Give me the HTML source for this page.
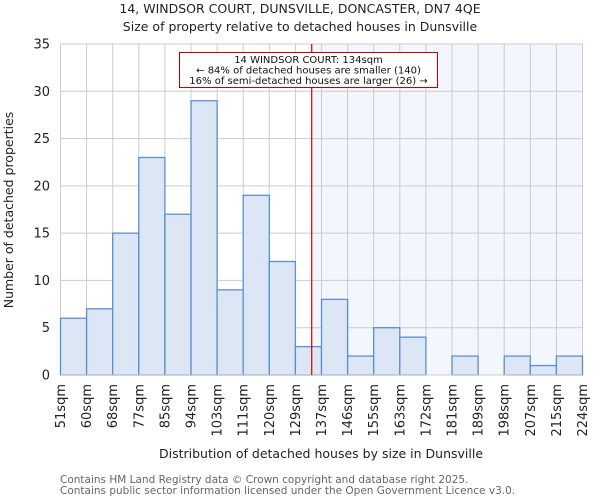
<!DOCTYPE html>
<html><head><meta charset="utf-8"><style>
body{margin:0;background:#fff;font-family:"DejaVu Sans","Liberation Sans",sans-serif}
svg text{font-family:"DejaVu Sans","Liberation Sans",sans-serif}
</style></head><body>
<svg id="c" width="600" height="500" viewBox="0 0 600 500"></svg>
<script>
const edgeLabels=["51sqm","60sqm","68sqm","77sqm","85sqm","94sqm","103sqm","111sqm","120sqm","129sqm","137sqm","146sqm","155sqm","163sqm","172sqm","181sqm","189sqm","198sqm","207sqm","215sqm","224sqm"];
const counts=[6,7,15,23,17,29,9,19,12,3,8,2,5,4,0,2,0,2,1,2];
const yTicks=[0,5,10,15,20,25,30,35];
const markerBinPos=9.625; // 134sqm within 129-137 bin
const NS="http://www.w3.org/2000/svg";
const svg=document.getElementById('c');
const X0=60.5,X1=582.5,Y0=375,Y1=44,YMAX=35;
const nb=counts.length;
const x=i=>X0+(X1-X0)*i/nb;
const y=v=>Y0-(Y0-Y1)*v/YMAX;
function mk(t,a,p){const e=document.createElementNS(NS,t);for(const k in a)e.setAttribute(k,a[k]);(p||svg).appendChild(e);return e;}
function tx(s,a){const e=mk('text',a);e.textContent=s;return e;}
// shaded region
const sh=mk('rect',{x:x(markerBinPos),y:Y1,width:X1-x(markerBinPos),height:Y0-Y1,fill:'#f3f6fd'});


// grid
for(let i=0;i<=nb;i++){const g=mk('line',{x1:x(i),x2:x(i),y1:Y1,y2:Y0,stroke:'#cccccc','stroke-width':1});

}
yTicks.forEach(v=>{const g=mk('line',{x1:X0,x2:X1,y1:y(v),y2:y(v),stroke:'#cccccc','stroke-width':1});


const t=tx(String(v),{x:50,y:y(v)+4.5,'text-anchor':'end','font-size':13,fill:'#222'});

});
// bars
counts.forEach((c,i)=>{if(c<=0)return;const r=mk('rect',{x:x(i),y:y(c),width:x(i+1)-x(i),height:Y0-y(c),fill:'#dce6f4',stroke:'#5b8fd4','stroke-width':1.3});

});
mk('line',{x1:X0,x2:X1,y1:Y0,y2:Y0,stroke:'#ccc'});
// x labels
edgeLabels.forEach((l,i)=>{const t=tx(l,{x:0,y:0,'text-anchor':'end','font-size':13,fill:'#222',transform:`translate(${x(i)+4.5},384) rotate(-90)`});

});
// marker line
const ml=mk('line',{x1:x(markerBinPos),x2:x(markerBinPos),y1:Y1,y2:Y0,stroke:'#d00000','stroke-width':1.2});


// annotation
const ab=mk('rect',{x:179.5,y:52.5,width:258,height:35,fill:'#fff',stroke:'#c00000','stroke-width':1});


[["14 WINDSOR COURT: 134sqm",63],["← 84% of detached houses are smaller (140)",73.5],["16% of semi-detached houses are larger (26) →",84]].forEach(([s,yy])=>{const t=tx(s,{x:308.5,y:yy,'text-anchor':'middle','font-size':10,fill:'#111'});

});
// titles
let t=tx("14, WINDSOR COURT, DUNSVILLE, DONCASTER, DN7 4QE",{x:300,y:13,'text-anchor':'middle','font-size':12.5,fill:'#222'});


t=tx("Size of property relative to detached houses in Dunsville",{x:300,y:31,'text-anchor':'middle','font-size':12.5,fill:'#222'});


t=tx("Distribution of detached houses by size in Dunsville",{x:321,y:458,'text-anchor':'middle','font-size':12.5,fill:'#222'});


t=tx("Number of detached properties",{x:0,y:0,'text-anchor':'middle','font-size':12.5,fill:'#222',transform:'translate(13,210) rotate(-90)'});


t=tx("Contains HM Land Registry data © Crown copyright and database right 2025.",{x:60,y:483,'font-size':10.5,fill:'#666'});


t=tx("Contains public sector information licensed under the Open Government Licence v3.0.",{x:60,y:494,'font-size':10.5,fill:'#666'});


</script>
</body></html>
